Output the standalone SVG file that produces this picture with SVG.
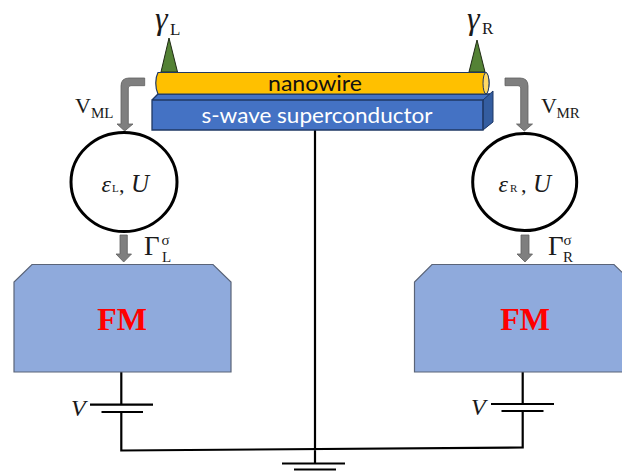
<svg xmlns="http://www.w3.org/2000/svg" width="622" height="473" viewBox="0 0 622 473">
<style>
.w{fill:none;stroke:#000;stroke-width:2.2}
.s{font-family:"Liberation Serif",serif;fill:#1a1a1a}
.i{font-style:italic}
.arr{fill:#7f7f7f;stroke:#5f5f5f;stroke-width:.8}
.fm{fill:#8faadc;stroke:#5a6478;stroke-width:1.2}
.c{fill:#fff;stroke:#000;stroke-width:3}
.tip{fill:#548235;stroke:#1f2a14;stroke-width:1}
.ca{font-family:Lato,"Open Sans",sans-serif}
.fmt{font-family:"Liberation Serif",serif;font-weight:bold;font-size:32px;fill:#f00;text-anchor:middle}
</style>
<g id="connectors">
<path class="w" d="M121.3 372V404.5M121.3 412V450.500L522.7 447.500V411M522.7 404V372M315 130V463.5"/>
<path class="w" d="M90 404.7H153M101.5 412H143M491 404H554M501.5 411H543.5M282 463.5H345M294 469.5H336"/>
</g>
<g id="tip-left"><path class="tip" d="M169 38L177.500 72H161Z"/></g>
<g id="tip-right"><path class="tip" d="M477 40L485 72H469Z"/></g>
<g id="superconductor">
<path d="M152 100L158 94H493V122L483 130H152Z" fill="#4472c4"/>
<path d="M483 100L493 91V122L483 130Z" fill="#345da0" stroke="#1f3864" stroke-width="1"/>
<path d="M152 100L158 94H490M152 100H483V130H152Z" fill="none" stroke="#1f3864" stroke-width="1.300"/>
<text class="ca" x="317" y="123" font-size="22" fill="#fff" text-anchor="middle" textLength="231" lengthAdjust="spacingAndGlyphs">s-wave superconductor</text>
</g>
<g id="nanowire">
<path d="M158 72.500H486C490 78 490 88 486 94H158C155 88 155 78 158 72.500Z" fill="#ffc000" stroke="#1f3864" stroke-width="1.200"/>
<ellipse cx="486" cy="83.200" rx="3" ry="10.700" fill="#ffd966" stroke="#1f3864" stroke-width="1"/>
<text class="ca" x="315" y="91" font-size="22" fill="#111" text-anchor="middle" textLength="94" lengthAdjust="spacingAndGlyphs">nanowire</text>
</g>
<g id="arrow-ml"><path class="arr" d="M144.700 78H129Q121 78 121 86V124H117L124.700 131L133 124H128.300V88Q128.300 85.700 131 85.700H144.700Z"/></g>
<g id="arrow-mr"><path class="arr" d="M505 78H520Q528 78 528 86V124H532.500L524.300 131L516.500 124H520.700V88Q520.700 85.700 518 85.700H505Z"/></g>
<g id="dot-left">
<ellipse class="c" cx="124" cy="182" rx="53" ry="49.500"/>
<text class="s i" x="101.500" y="192" font-size="24">ε</text><text class="s" x="112" y="192" font-size="11">L</text><text class="s" x="119" y="191.500" font-size="22">,</text><text class="s i" x="131" y="191.500" font-size="25">U</text>
</g>
<g id="dot-right">
<ellipse class="c" cx="524.700" cy="182" rx="52" ry="48.500"/>
<text class="s i" x="498.500" y="192" font-size="24">ε</text><text class="s" x="510" y="192" font-size="11">R</text><text class="s" x="521" y="191.500" font-size="22">,</text><text class="s i" x="533" y="191.500" font-size="25">U</text>
</g>
<g id="arrow-gl"><path class="arr" d="M120 235H127.300V254H131.500L123.700 262L116 254H120Z"/></g>
<g id="arrow-gr"><path class="arr" d="M521 235H529V254H532.500L525 262L517 254H521Z"/></g>
<g id="fm-left"><path class="fm" d="M32 264.500H213L231 282V372H14V282Z"/><text class="fmt" x="122" y="330">FM</text></g>
<g id="fm-right"><path class="fm" d="M432 264.500H614L632 282V372H414.500V282Z"/><text class="fmt" x="525" y="330">FM</text></g>
<g id="labels">
<text class="s i" x="155" y="29" font-size="32">γ</text><text class="s" x="170" y="35" font-size="17">L</text>
<text class="s i" x="467" y="29" font-size="32">γ</text><text class="s" x="482" y="34" font-size="17">R</text>
<text class="s" x="75" y="113" font-size="22">V</text><text class="s" x="91" y="117.700" font-size="15">ML</text>
<text class="s" x="541" y="113" font-size="22">V</text><text class="s" x="556.500" y="117.700" font-size="15">MR</text>
<text class="s" x="144" y="255" font-size="27">Γ</text><text class="s" x="161.500" y="245" font-size="15">σ</text><text class="s" x="162" y="262" font-size="15">L</text>
<text class="s" x="548" y="255" font-size="27">Γ</text><text class="s" x="563.500" y="245" font-size="15">σ</text><text class="s" x="563" y="262" font-size="15">R</text>
<text class="s i" x="71" y="416" font-size="24">V</text>
<text class="s i" x="471" y="415" font-size="24">V</text>
</g>
</svg>
